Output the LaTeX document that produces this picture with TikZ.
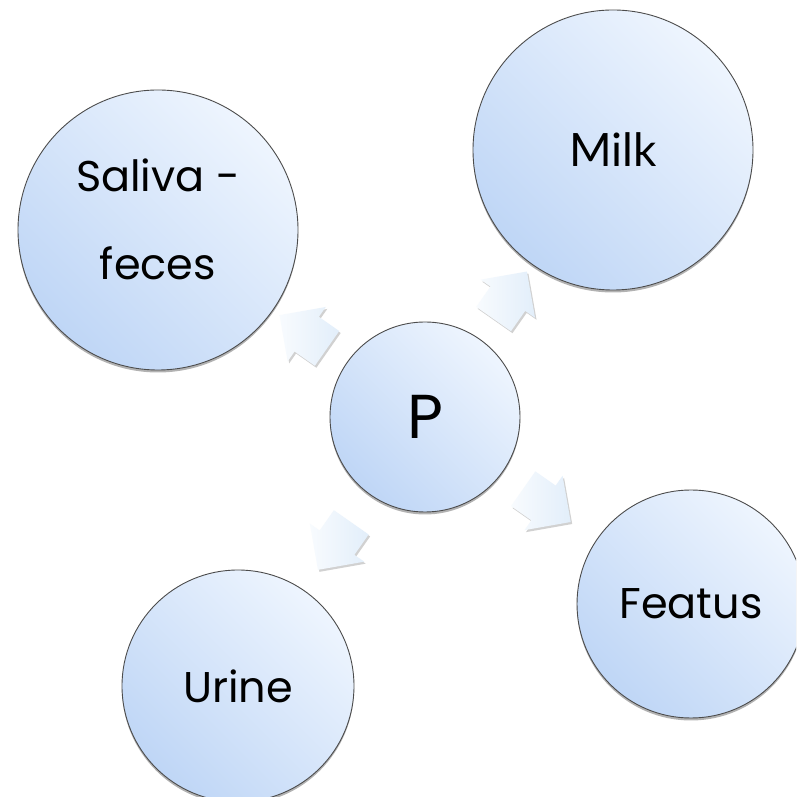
\documentclass[tikz,border=0pt]{standalone}
\usepackage{fontspec}
\setmainfont{Poppins}
\newfontfamily\milkfont{Lato}
\usetikzlibrary{shapes.arrows,shadows,calc}
\definecolor{bubtop}{HTML}{EEF5FE}
\definecolor{bubbot}{HTML}{BFD6F6}
\definecolor{arrbeg}{HTML}{F8FBFE}
\definecolor{arrend}{HTML}{E2EEFA}
\begin{document}
\begin{tikzpicture}[x=1pt,y=1pt,
  bubble/.style={circle, draw=black!70, line width=0.9pt, inner sep=0pt,
    top color=bubtop, bottom color=bubbot, shading angle=-45,
    drop shadow={shadow xshift=0pt, shadow yshift=-2.5pt, opacity=0.3, fill=black},
    font=\fontsize{43}{86}\selectfont, align=center},
  label/.style={font=\fontsize{43}{88}\selectfont, align=center, inner sep=0pt},
  flow/.style={single arrow, draw=none, inner sep=0pt,
    minimum height=58pt, single arrow head extend=12pt,
    left color=arrbeg, right color=arrend,
    drop shadow={shadow xshift=1.5pt, shadow yshift=-2pt, opacity=0.18, fill=black}}
]
\fill[white] (0,0) rectangle (796,797);
\useasboundingbox (0,0) rectangle (796,797);
\clip (0,0) rectangle (796,797);

\node[bubble, minimum size=280pt] (S) at (158,567) {};
\node[label] (St) at ([yshift=11pt]S.center) {Saliva -\\feces};
\node[bubble, minimum size=280pt, font=\milkfont\fontsize{46}{56}\selectfont] (M) at (613,647) {Milk};
\node[bubble, minimum size=228pt] (F) at (691,193) {Featus};
\node[bubble, minimum size=232pt] (U) at (238,111) {Urine};
\node[bubble, minimum size=190pt, font=\fontsize{62}{70}\selectfont] (P) at (425,380) {P};

\node[flow, rotate=55] (aM) at ($(P.center)+(55:138)$) {\rule{0pt}{42pt}};
\node[flow, rotate=145] (aS) at ($(P.center)+(145:138)$) {\rule{0pt}{42pt}};
\node[flow, rotate=-35] (aF) at ($(P.center)+(-36:140)$) {\rule{0pt}{42pt}};
\node[flow, rotate=-125] (aU) at ($(P.center)+(-125:147)$) {\rule{0pt}{42pt}};
\end{tikzpicture}
\end{document}
